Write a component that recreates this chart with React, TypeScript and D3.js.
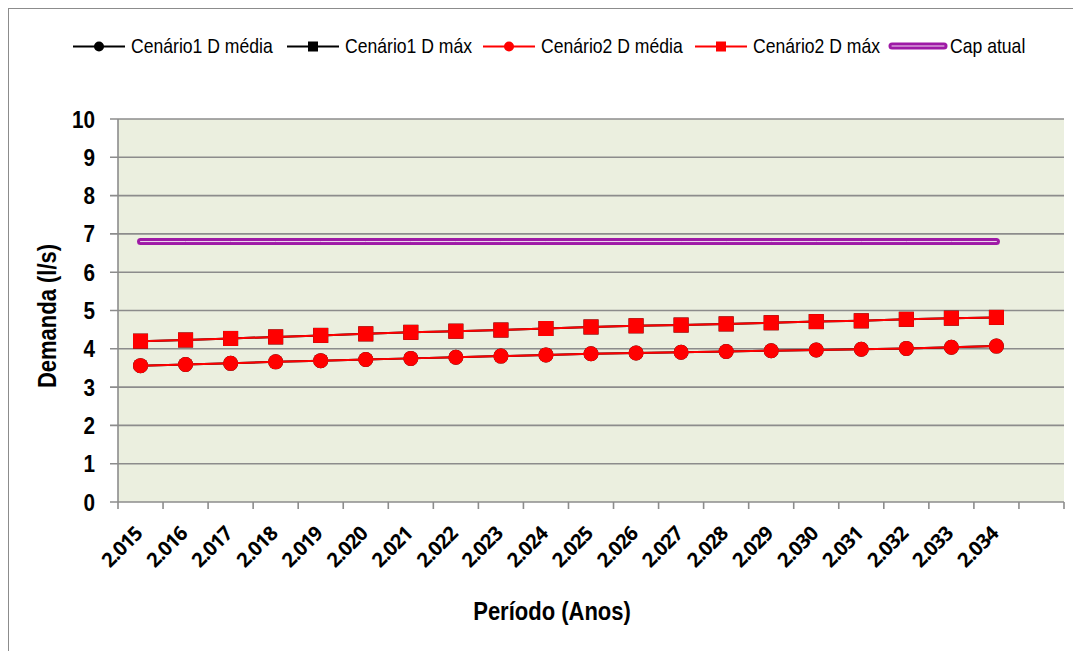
import React from "react";
import * as d3 from "d3";

const years = ["2.015","2.016","2.017","2.018","2.019","2.020","2.021","2.022","2.023","2.024","2.025","2.026","2.027","2.028","2.029","2.030","2.031","2.032","2.033","2.034"];
const c1Media = [3.56,3.59,3.62,3.66,3.69,3.72,3.75,3.78,3.81,3.84,3.87,3.89,3.91,3.93,3.95,3.97,3.99,4.01,4.04,4.07];
const c1Max = [4.20,4.23,4.27,4.31,4.35,4.39,4.43,4.46,4.49,4.53,4.57,4.60,4.62,4.65,4.68,4.71,4.73,4.77,4.80,4.82];
const c2Media = [3.56,3.59,3.62,3.66,3.69,3.72,3.75,3.78,3.81,3.84,3.87,3.89,3.91,3.93,3.95,3.97,3.99,4.01,4.04,4.07];
const c2Max = [4.20,4.23,4.27,4.31,4.35,4.39,4.43,4.46,4.49,4.53,4.57,4.60,4.62,4.65,4.68,4.71,4.73,4.77,4.80,4.82];
const capAtual = years.map(() => 6.8);
const yTicks = [0,1,2,3,4,5,6,7,8,9,10];
const legendItems = [
  { label: "Cenário1 D média", color: "#000000", marker: "circle", x: 73 },
  { label: "Cenário1 D máx", color: "#000000", marker: "square", x: 287 },
  { label: "Cenário2 D média", color: "#ff0000", marker: "circle", x: 483 },
  { label: "Cenário2 D máx", color: "#ff0000", marker: "square", x: 695 },
  { label: "Cap atual", color: "#9e1aa6", marker: "cap", x: 889 },
];

const W = 1073, H = 651;
const plot = { left: 118, right: 1064, top: 119, bottom: 502 };
const nCats = 21;
const condensed = "'Liberation Sans', Arial, sans-serif";

export default function App() {
  const band = d3.scaleBand<number>().domain(d3.range(nCats)).range([plot.left, plot.right]).paddingInner(0).paddingOuter(0);
  const cx = (i: number) => (band(i) as number) + band.bandwidth() / 2;
  const y = d3.scaleLinear().domain([0, 10]).range([plot.bottom, plot.top]);
  const line = d3.line<number>().x((_, i) => cx(i)).y((v) => y(v));

  const series = [
    { vals: c1Media, color: "#000000", marker: "circle" },
    { vals: c1Max, color: "#000000", marker: "square" },
    { vals: c2Media, color: "#ff0000", marker: "circle" },
    { vals: c2Max, color: "#ff0000", marker: "square" },
  ];

  const marker = (m: string, x: number, yy: number, color: string, s: number, key: any) =>
    m === "circle" ? (
      <circle key={key} cx={x} cy={yy} r={s / 2} fill={color} />
    ) : (
      <rect key={key} x={x - s / 2} y={yy - s / 2} width={s} height={s} fill={color} />
    );

  return (
    <svg width={W} height={H} style={{ position: "absolute", left: 0, top: 0, background: "#fff" }}>
      <rect x={8.5} y={8.5} width={W + 20} height={H + 20} fill="#fff" stroke="#8c8c8c" strokeWidth={1} />
      {/* legend */}
      {legendItems.map((it, k) => (
        <g key={k}>
          {it.marker === "cap" ? (
            <g>
              <line x1={it.x + 3} x2={it.x + 55} y1={46} y2={46} stroke={it.color} strokeWidth={7} strokeLinecap="round" />
              <line x1={it.x + 3} x2={it.x + 55} y1={46} y2={46} stroke="#fff" strokeWidth={1} strokeOpacity={0.85} strokeLinecap="round" />
            </g>
          ) : (
            <g>
              <line x1={it.x} x2={it.x + 52} y1={46.5} y2={46.5} stroke={it.color} strokeWidth={2} />
              {marker(it.marker, it.x + 26, 46.5, it.color, 10, "m")}
            </g>
          )}
          <g transform={`translate(${it.marker === "cap" ? it.x + 61 : it.x + 58},53) scale(0.88,1)`}>
            <text x={0} y={0} fontFamily={condensed} fontSize={20} fill="#000">{it.label}</text>
          </g>
        </g>
      ))}
      {/* plot area */}
      <rect x={plot.left} y={plot.top} width={plot.right - plot.left} height={plot.bottom - plot.top} fill="#ebefdf" />
      {yTicks.map((t) => (
        <g key={t}>
          <line x1={plot.left - 8} x2={plot.right} y1={y(t)} y2={y(t)} stroke="#8c8c8c" strokeWidth={1.6} />
          <g transform={`translate(95,${y(t) + 8.5}) scale(0.9,1)`}>
            <text textAnchor="end" fontFamily={condensed} fontWeight="bold" fontSize={23} fill="#000">{t}</text>
          </g>
        </g>
      ))}
      <line x1={plot.left} x2={plot.left} y1={plot.top} y2={plot.bottom} stroke="#8c8c8c" strokeWidth={1.6} />
      {d3.range(nCats + 1).map((k) => {
        const x = plot.left + k * band.bandwidth();
        return <line key={k} x1={x} x2={x} y1={plot.bottom} y2={plot.bottom + 7} stroke="#8c8c8c" strokeWidth={1.6} />;
      })}
      {/* cap line */}
      <path d={line(capAtual) || ""} fill="none" stroke="#9e1aa6" strokeWidth={7} strokeLinecap="round" />
      <path d={line(capAtual) || ""} fill="none" stroke="#ffffff" strokeWidth={1} strokeOpacity={0.85} strokeLinecap="round" />
      {/* series */}
      {series.map((s, si) => (
        <g key={si}>
          <path d={line(s.vals) || ""} fill="none" stroke={s.color} strokeWidth={2} />
          {s.vals.map((v, i) => marker(s.marker, cx(i), y(v), s.color, 15, i))}
        </g>
      ))}
      {/* x labels */}
      {years.map((yr, i) => (
        <text key={yr} transform={`translate(${cx(i) + 3},535) rotate(-45)`} textAnchor="end" fontFamily="'Open Sans', Lato, sans-serif" fontWeight="bold" fontSize={20} letterSpacing={-0.8} fill="#000">{yr}</text>
      ))}
      {/* axis titles */}
      <g transform="translate(552,620) scale(0.88,1)">
        <text textAnchor="middle" fontFamily={condensed} fontWeight="bold" fontSize={25} fill="#000">Período (Anos)</text>
      </g>
      <g transform="translate(56,316) rotate(-90) scale(0.88,1)">
        <text textAnchor="middle" fontFamily={condensed} fontWeight="bold" fontSize={25} fill="#000">Demanda (l/s)</text>
      </g>
    </svg>
  );
}
